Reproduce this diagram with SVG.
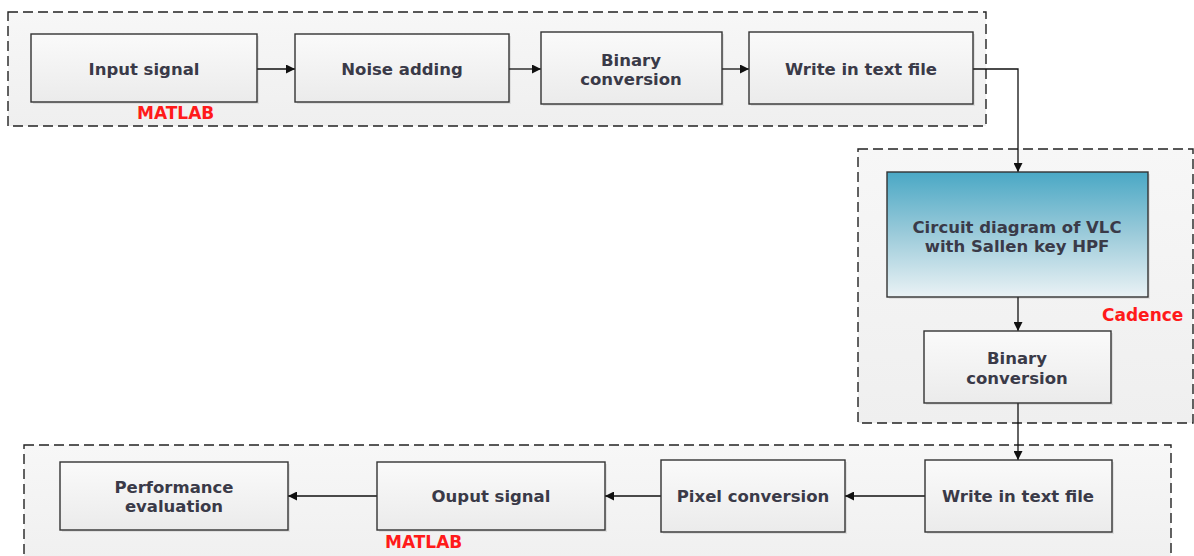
<svg xmlns="http://www.w3.org/2000/svg" width="1194" height="556" viewBox="0 0 1194 556">
<style>
.cont{fill:url(#contGrad);stroke:#222;stroke-width:1.4;stroke-dasharray:10,5}
.box{fill:url(#boxGrad);stroke:#333;stroke-width:1.4}
.shadow{fill:#000;opacity:0.08}
.t{font-family:"DejaVu Sans",Verdana,sans-serif;font-weight:bold;font-size:16.5px;fill:#3a3a48;text-anchor:middle}
.lbl{font-family:"DejaVu Sans",Verdana,sans-serif;font-weight:bold;font-size:17px;fill:#ff1a1a}
.conn{fill:none;stroke:#111;stroke-width:1.3}
</style>
<defs>
<linearGradient id="contGrad" x1="0" y1="0" x2="0" y2="1">
<stop offset="0" stop-color="#f7f7f7"/>
<stop offset="1" stop-color="#efefef"/>
</linearGradient>
<linearGradient id="boxGrad" x1="0" y1="0" x2="0" y2="1">
<stop offset="0" stop-color="#fafafa"/>
<stop offset="1" stop-color="#ebebeb"/>
</linearGradient>
<linearGradient id="blueGrad" x1="0" y1="0" x2="0" y2="1">
<stop offset="0" stop-color="#4aa8c5"/>
<stop offset="0.5" stop-color="#9ccbda"/>
<stop offset="1" stop-color="#eaf2f5"/>
</linearGradient>
<marker id="arr" viewBox="0 0 10 10" refX="10" refY="5" markerWidth="9" markerHeight="9" markerUnits="userSpaceOnUse" orient="auto">
<path d="M0,0 L10,5 L0,10 Z" fill="#111"/>
</marker>
</defs>

<g id="containers">
<rect id="matlab-top" class="cont" x="8" y="12" width="978" height="114"/>
<rect id="cadence" class="cont" x="858" y="149" width="335" height="274"/>
<rect id="matlab-bottom" class="cont" x="24" y="445" width="1147" height="130"/>
<text class="lbl" x="137" y="119">MATLAB</text>
<text class="lbl" x="1102" y="321">Cadence</text>
<text class="lbl" x="385" y="548">MATLAB</text>
</g>

<g id="connectors">
<line class="conn" x1="257" y1="69" x2="295" y2="69" marker-end="url(#arr)"/>
<line class="conn" x1="509" y1="69" x2="541" y2="69" marker-end="url(#arr)"/>
<line class="conn" x1="722" y1="69" x2="749" y2="69" marker-end="url(#arr)"/>
<polyline class="conn" points="973,69 1018,69 1018,172" marker-end="url(#arr)"/>
<line class="conn" x1="1018" y1="297" x2="1018" y2="331" marker-end="url(#arr)"/>
<line class="conn" x1="1018" y1="403" x2="1018" y2="460" marker-end="url(#arr)"/>
<line class="conn" x1="925" y1="496" x2="845" y2="496" marker-end="url(#arr)"/>
<line class="conn" x1="661" y1="496" x2="605" y2="496" marker-end="url(#arr)"/>
<line class="conn" x1="377" y1="496" x2="288" y2="496" marker-end="url(#arr)"/>
</g>

<g id="input-signal">
<rect class="shadow" x="33" y="36" width="226" height="68"/>
<rect class="box" x="31" y="34" width="226" height="68"/>
<text class="t" x="144" y="75">Input signal</text>
</g>
<g id="noise-adding">
<rect class="shadow" x="297" y="36" width="214" height="68"/>
<rect class="box" x="295" y="34" width="214" height="68"/>
<text class="t" x="402" y="75">Noise adding</text>
</g>
<g id="binary-conversion-1">
<rect class="shadow" x="543" y="34" width="181" height="72"/>
<rect class="box" x="541" y="32" width="181" height="72"/>
<text class="t" x="631" y="66">Binary</text>
<text class="t" x="631" y="85">conversion</text>
</g>
<g id="write-text-file-1">
<rect class="shadow" x="751" y="34" width="224" height="72"/>
<rect class="box" x="749" y="32" width="224" height="72"/>
<text class="t" x="861" y="75">Write in text file</text>
</g>

<g id="circuit-diagram">
<rect class="shadow" x="889" y="174" width="261" height="125"/>
<rect x="887" y="172" width="261" height="125" fill="url(#blueGrad)" stroke="#333" stroke-width="1.4"/>
<text class="t" x="1017" y="233">Circuit diagram of VLC</text>
<text class="t" x="1017" y="252">with Sallen key HPF</text>
</g>
<g id="binary-conversion-2">
<rect class="shadow" x="926" y="333" width="187" height="72"/>
<rect class="box" x="924" y="331" width="187" height="72"/>
<text class="t" x="1017" y="364">Binary</text>
<text class="t" x="1017" y="384">conversion</text>
</g>

<g id="write-text-file-2">
<rect class="shadow" x="927" y="462" width="187" height="72"/>
<rect class="box" x="925" y="460" width="187" height="72"/>
<text class="t" x="1018" y="502">Write in text file</text>
</g>
<g id="pixel-conversion">
<rect class="shadow" x="663" y="462" width="184" height="72"/>
<rect class="box" x="661" y="460" width="184" height="72"/>
<text class="t" x="753" y="502">Pixel conversion</text>
</g>
<g id="output-signal">
<rect class="shadow" x="379" y="464" width="228" height="68"/>
<rect class="box" x="377" y="462" width="228" height="68"/>
<text class="t" x="491" y="502">Ouput signal</text>
</g>
<g id="performance-evaluation">
<rect class="shadow" x="62" y="464" width="228" height="68"/>
<rect class="box" x="60" y="462" width="228" height="68"/>
<text class="t" x="174" y="493">Performance</text>
<text class="t" x="174" y="512">evaluation</text>
</g>
</svg>
